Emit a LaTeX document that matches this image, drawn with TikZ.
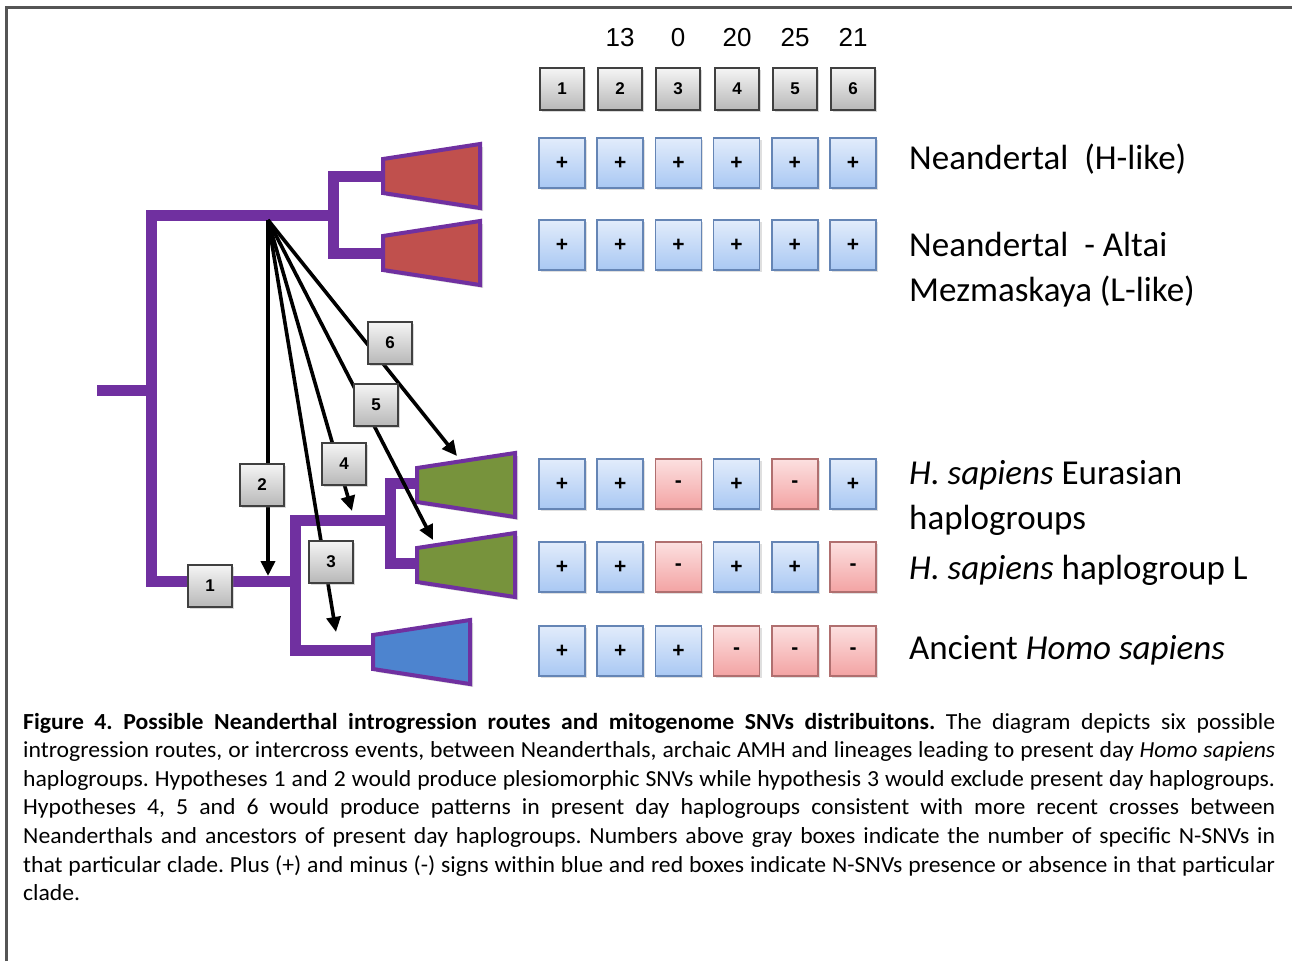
\documentclass[tikz,border=0pt]{standalone}
\usepackage{fontspec}
\setmainfont{Carlito}
\newfontfamily\capfont{Carlito}[FakeStretch=1.03]
\newfontfamily\arialf{Liberation Sans}
\usetikzlibrary{arrows.meta,shadows}
\definecolor{tpurple}{HTML}{7030A0}
\definecolor{tred}{HTML}{C0504D}
\definecolor{tgreen}{HTML}{77933C}
\definecolor{tblue}{HTML}{4D84CF}
\definecolor{bluetop}{HTML}{E2ECFB}
\definecolor{bluebot}{HTML}{A9C8F3}
\definecolor{blueedge}{HTML}{6585B5}
\definecolor{redtop}{HTML}{FCE0E0}
\definecolor{redbot}{HTML}{F3A3A3}
\definecolor{rededge}{HTML}{B06F6F}
\definecolor{frame}{HTML}{555555}
\tikzset{
  tree/.style={line width=11pt, draw=tpurple, line join=miter, line cap=rect},
  arr/.style={line width=3.6pt, draw=black, -{Triangle[length=15pt,width=14pt]}},
  gbox/.style={minimum width=44pt, minimum height=42pt, draw=black!75, line width=1.5pt,
    top color=white!96!black, bottom color=black!28, inner sep=0pt,
    font=\arialf\bfseries\fontsize{17}{17}\selectfont,
    drop shadow={opacity=0.3, shadow xshift=2pt, shadow yshift=-2pt}},
  pbox/.style={minimum width=46pt, minimum height=50pt, draw=blueedge, line width=1.5pt,
    top color=bluetop, bottom color=bluebot, inner sep=0pt,
    font=\arialf\bfseries\fontsize{21}{21}\selectfont,
    drop shadow={opacity=0.25, shadow xshift=2pt, shadow yshift=-2pt}},
  mbox/.style={pbox, draw=rededge, top color=redtop, bottom color=redbot},
  trap/.style={draw=tpurple, line width=4pt, line join=miter,
    drop shadow={opacity=0.3, shadow xshift=3pt, shadow yshift=-3pt}},
  lbl/.style={anchor=base west, inner sep=0pt, align=left,
    font=\fontsize{35}{45}\selectfont},
  num/.style={anchor=base, inner sep=0pt, font=\arialf\fontsize{26}{26}\selectfont},
}
\newcommand\trapz[5]{% name, xleft, xright, cy, color
  \path[trap, fill=#5] (#2,#4-17) -- (#3,#4-32) -- (#3,#4+32) -- (#2,#4+17) -- cycle;
  \coordinate (#1) at (#2,#4);}
\begin{document}
\begin{tikzpicture}[x=1pt,y=-1pt]
\useasboundingbox (0,0) rectangle (1292,961);
% frame
\draw[line width=3pt, frame] (6,961) -- (6,7) -- (1292,7);

% tree junctions
\coordinate (root) at (102,390);
\coordinate (rj) at (151,390);
\coordinate (ntop) at (151,215);
\coordinate (nj) at (333,215);
\coordinate (hbot) at (151,581);
\coordinate (hj) at (295,581);
\coordinate (sj) at (295,520);
\coordinate (ej) at (390,520);

\draw[tree] (root) -- (rj);
\draw[tree] (nj) -- (ntop) -- (hbot) -- (hj);
\draw[tree] (395,176) -- (333,176) -- (333,253) -- (395,253);
\draw[tree] (ej) -- (sj) -- (295,650) -- (385,650);
\draw[tree] (425,483) -- (390,483) -- (390,563) -- (425,563);

% trapezoids
\trapz{nH}{383}{480}{176}{tred}
\trapz{nL}{383}{480}{253}{tred}
\trapz{hE}{417}{515}{485}{tgreen}
\trapz{hL}{417}{515}{565}{tgreen}
\trapz{hA}{373}{470}{652}{tblue}

% arrows
\coordinate (o) at (268,220);
\coordinate (e2) at (268,576);
\coordinate (e3) at (336,632);
\coordinate (e4) at (352,511);
\coordinate (e5) at (433,540);
\coordinate (e6) at (457,456);
\foreach \e in {e2,e3,e4,e5,e6} \draw[arr] (o) -- (\e);

% route boxes
\node[gbox] (r1) at (210,586) {1};
\node[gbox] (r2) at (262,485) {2};
\node[gbox] (r3) at (331,562) {3};
\node[gbox] (r4) at (344,464) {4};
\node[gbox] (r5) at (376,405) {5};
\node[gbox] (r6) at (390,343) {6};

% header boxes and numbers
\foreach \i/\x in {1/562,2/620,3/678,4/737,5/795,6/853}
  \node[gbox] (h\i) at (\x,89) {\i};
\foreach \i/\x/\n in {2/620/13,3/678/0,4/737/20,5/795/25,6/853/21}
  \node[num] (n\i) at (\x,46) {\n};

% sign grid
\foreach \r/\y/\pat in {a/163/{p,p,p,p,p,p}, b/245/{p,p,p,p,p,p}, c/484/{p,p,m,p,m,p},
                      d/567/{p,p,m,p,p,m}, e/651/{p,p,p,m,m,m}}{
  \foreach \s [count=\i] in \pat {
    \pgfmathsetmacro\xx{562+58.2*(\i-1)}
    \if p\s
      \node[pbox] (g\r\i) at (\xx,\y) {+};
    \else
      \node[mbox] (g\r\i) at (\xx,\y) {-};
    \fi
  }
}

% labels (base = last line)
\node[lbl] (lnH) at (909,169) {Neandertal\ \ (H-like)};
\node[lbl] (lnL) at (909,301) {Neandertal\ \ - Altai\\Mezmaskaya (L-like)};
\node[lbl] (lhE) at (909,529) {\textit{H. sapiens} Eurasian\\haplogroups};
\node[lbl] (lhL) at (909,579) {\textit{H. sapiens} haplogroup L};
\node[lbl] (lhA) at (909,659) {Ancient \textit{Homo sapiens}};

% caption
\node[anchor=base west, inner sep=0pt, text width=1252pt, align=justify,
      font=\capfont\fontsize{23}{28.6}\selectfont\frenchspacing] (cap) at (23,729)
{\textbf{Figure 4. Possible Neanderthal introgression routes and mitogenome SNVs distribuitons.} The diagram depicts six possible\linebreak introgression routes, or intercross events, between Neanderthals, archaic AMH and lineages leading to present day \textit{Homo sapiens}\linebreak haplogroups. Hypotheses 1 and 2 would produce plesiomorphic SNVs while hypothesis 3 would exclude present day haplogroups.\linebreak Hypotheses 4, 5 and 6 would produce patterns in present day haplogroups consistent with more recent crosses between\linebreak Neanderthals and ancestors of present day haplogroups. Numbers above gray boxes indicate the number of specific N-SNVs in\linebreak that particular clade. Plus (+) and minus (-) signs within blue and red boxes indicate N-SNVs presence or absence in that particular\linebreak clade.};
\end{tikzpicture}
\end{document}
